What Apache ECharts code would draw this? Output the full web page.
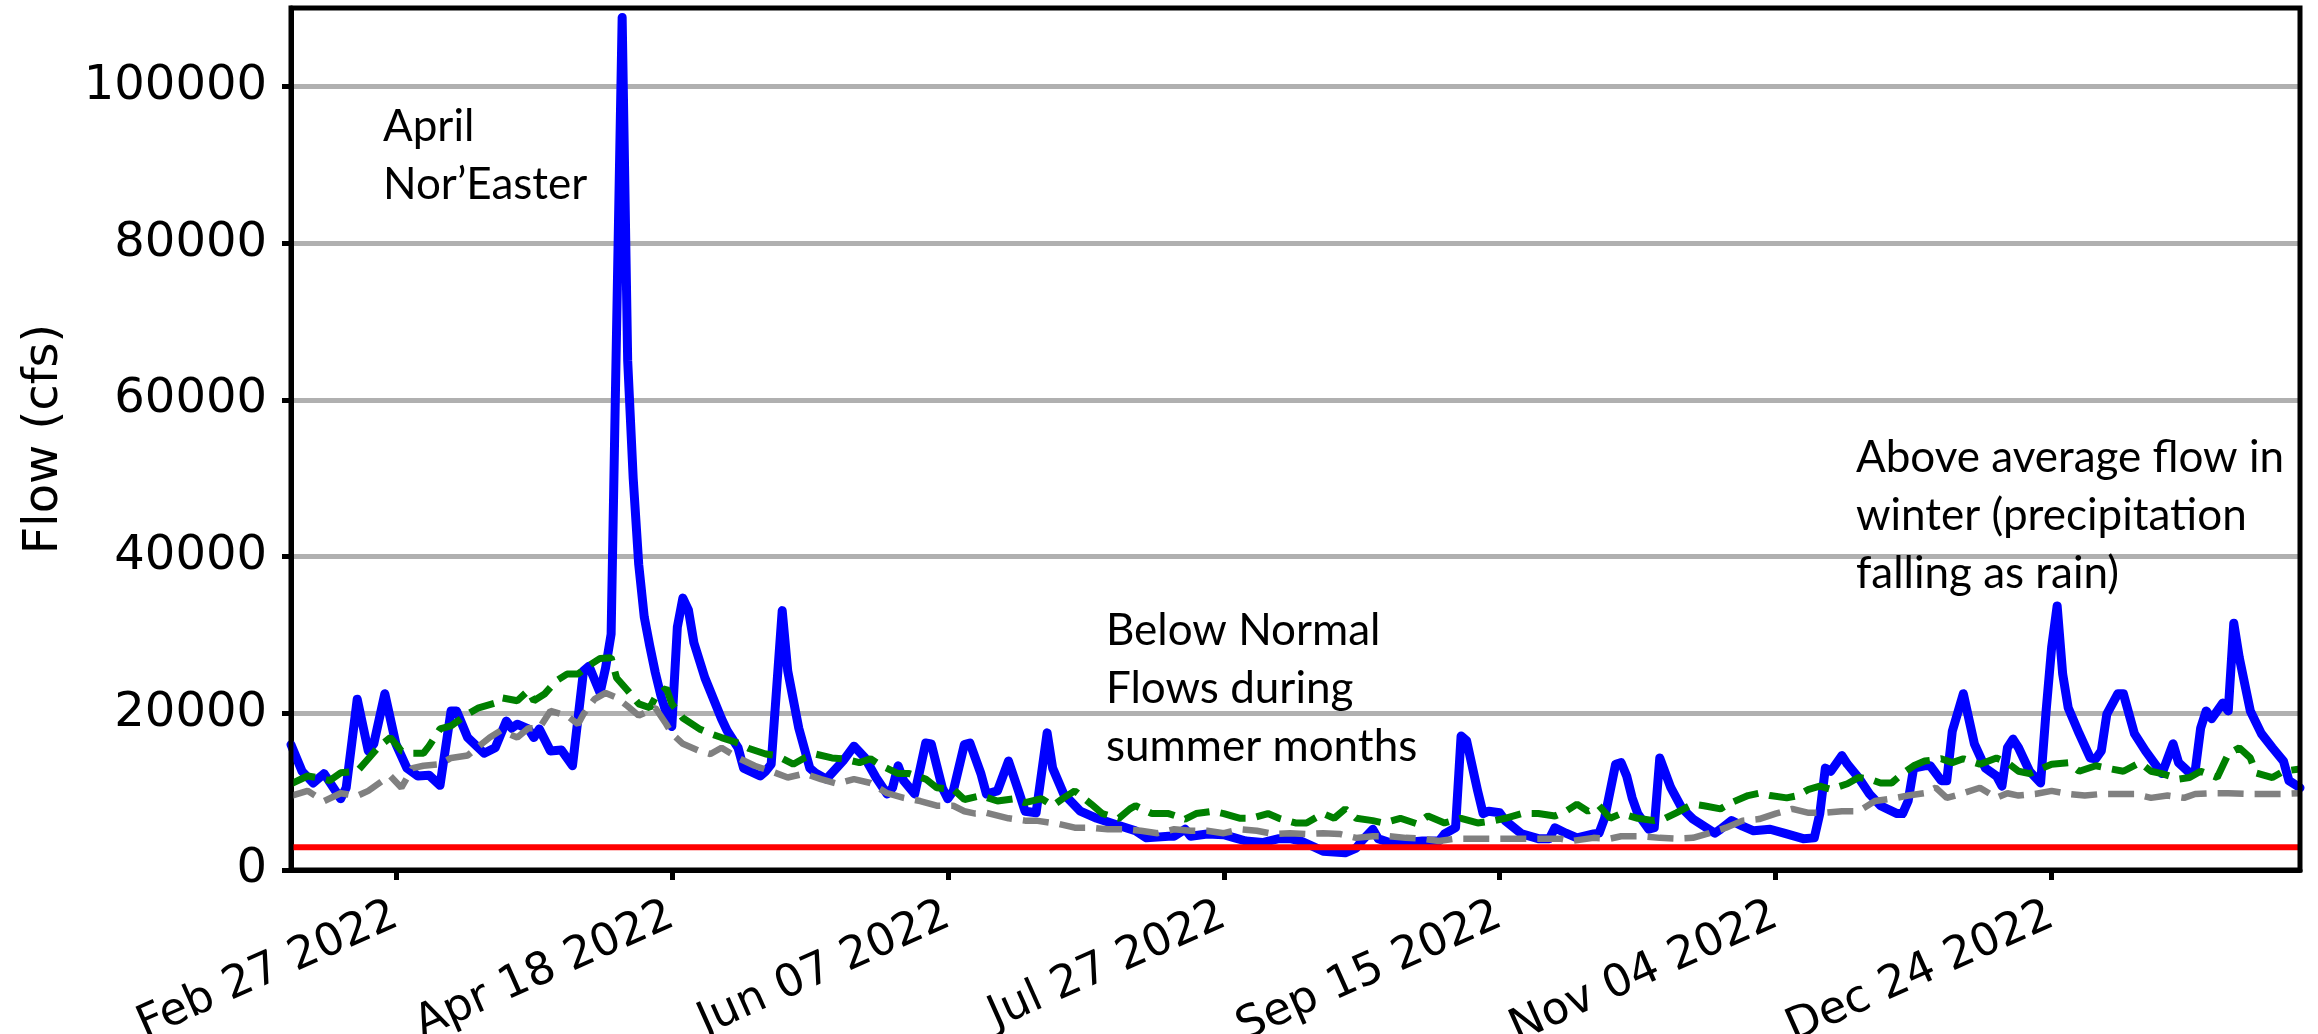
<!DOCTYPE html>
<html>
<head>
<meta charset="utf-8">
<script src="https://cdn.jsdelivr.net/npm/echarts@6/dist/echarts.min.js"></script>
<style>
  html, body { margin: 0; padding: 0; background: #ffffff; }
  #chart { width: 2318px; height: 1034px; }
</style>
</head>
<body>
<div id="chart"></div>
<script>
// x values are day numbers counted from Feb 8 2022 (day 0) to Feb 7 2023 (day 364)
const dayCount = 364;

const tickDays = [19, 69, 119, 169, 219, 269, 319];
const tickLabels = ['Feb 27 2022', 'Apr 18 2022', 'Jun 07 2022', 'Jul 27 2022',
                    'Sep 15 2022', 'Nov 04 2022', 'Dec 24 2022'];
const yTicks = [0, 20000, 40000, 60000, 80000, 100000];

// observed daily flow (cfs)
const flowDays = [0, 2, 4, 6, 9, 10, 12, 14, 15, 17, 19, 21, 23, 25, 27, 29, 30, 32, 35, 37,
  39, 40, 41, 43, 44, 45, 47, 49, 51, 53, 54, 56, 57, 58, 60, 61, 62, 63, 64, 65,
  66, 67, 68, 69, 70, 71, 72, 73, 75, 78, 79, 81, 82, 85, 86, 87, 89, 90, 92, 94,
  95, 97, 100, 102, 104, 106, 108, 109, 110, 111, 113, 115, 116, 118, 119, 120, 122, 123, 125, 126,
  128, 130, 132, 133, 135, 137, 138, 140, 143, 146, 149, 153, 155, 159, 160, 162, 163, 166, 169, 171,
  173, 176, 179, 181, 183, 187, 191, 193, 194, 196, 197, 199, 202, 205, 208, 209, 211, 212, 213, 215,
  216, 217, 219, 220, 223, 226, 228, 229, 231, 233, 236, 237, 238, 240, 241, 242, 243, 244, 246, 247,
  248, 250, 252, 254, 258, 259, 261, 263, 265, 268, 271, 274, 276, 277, 278, 279, 281, 282, 284, 286,
  288, 291, 292, 293, 294, 296, 297, 299, 300, 301, 303, 305, 307, 309, 310, 311, 312, 313, 315, 317,
  318, 319, 320, 321, 322, 324, 326, 327, 328, 329, 331, 332, 334, 336, 339, 341, 342, 344, 345, 346,
  347, 348, 350, 351, 352, 353, 355, 357, 359, 361, 362, 364];
const flowCfs = [16000, 12600, 11100, 12300, 9100, 10500, 21800, 15200, 16100, 22500, 16100, 13000, 12000, 12100, 10800, 20300, 20300, 16900, 14900, 15600,
  19000, 18100, 18600, 18000, 16900, 18000, 15200, 15300, 13300, 25400, 26000, 22600, 25800, 30100, 108800, 65000, 50000, 39000, 32300, 28600,
  25200, 22300, 20000, 18300, 31000, 34700, 33200, 29000, 24500, 19300, 17800, 15600, 13000, 12000, 12600, 13500, 33100, 25400, 18100, 13000,
  12400, 11600, 13900, 15800, 14300, 11800, 9700, 10500, 13300, 11400, 9700, 16200, 16100, 10500, 9100, 10100, 16000, 16200, 12300, 9700,
  10100, 13900, 9700, 7500, 7300, 17500, 13000, 9700, 7500, 6600, 5900, 5000, 4100, 4300, 4300, 5200, 4300, 4600, 4500, 4100,
  3700, 3500, 4000, 4000, 3700, 2400, 2200, 2800, 3700, 5200, 4000, 3500, 3500, 3700, 3700, 4600, 5400, 17100, 16500, 10100,
  7200, 7500, 7300, 6300, 4600, 4000, 4000, 5400, 4700, 4100, 4600, 4700, 6600, 13500, 13700, 12000, 9200, 7200, 5200, 5400,
  14300, 10500, 7900, 6500, 4700, 5200, 6300, 5600, 5000, 5200, 4600, 4000, 4100, 7200, 13000, 12600, 14600, 13500, 11800, 9700,
  8200, 7200, 7200, 8800, 13000, 13300, 13300, 11400, 11400, 17700, 22500, 16100, 13000, 12000, 10700, 15600, 16700, 15600, 12600, 11100,
  20300, 28400, 33700, 25000, 20700, 17400, 14300, 14200, 15200, 19900, 22500, 22500, 17400, 15200, 12300, 16100, 13700, 12400, 12600, 18100,
  20300, 19300, 21300, 20300, 31500, 27100, 20300, 17400, 15600, 13900, 11400, 10500];

// long-term mean flow for each day (cfs)
const meanDays = [0, 3, 5, 7, 9, 12, 14, 16, 18, 20, 22, 24, 25, 27, 29, 32, 34, 37, 38, 41,
  43, 44, 46, 48, 50, 52, 54, 56, 58, 59, 61, 63, 65, 66, 68, 69, 71, 74, 76, 78,
  81, 83, 86, 88, 91, 93, 95, 98, 100, 103, 105, 107, 110, 112, 115, 117, 120, 122, 125, 128,
  131, 133, 136, 138, 140, 142, 145, 147, 150, 152, 153, 156, 159, 162, 164, 167, 169, 172, 174, 177,
  179, 182, 184, 187, 189, 191, 193, 196, 198, 201, 204, 206, 209, 212, 215, 218, 220, 223, 226, 229,
  231, 233, 235, 237, 239, 241, 244, 247, 249, 251, 254, 256, 259, 261, 264, 266, 268, 271, 273, 275,
  277, 279, 282, 284, 286, 288, 290, 292, 294, 296, 299, 301, 303, 306, 309, 311, 313, 315, 317, 319,
  322, 324, 327, 329, 332, 335, 337, 339, 342, 344, 346, 349, 351, 353, 355, 356, 359, 361, 364];
const meanCfs = [11000, 12000, 11750, 11400, 12400, 12600, 14200, 15800, 16900, 15200, 14900, 14900, 15800, 18000, 18400, 19900, 20700, 21300, 22000, 21600,
  22900, 21600, 22500, 24100, 25000, 25000, 26100, 27000, 27100, 24500, 22900, 21200, 20700, 22000, 23200, 21200, 19400, 18000, 17400, 16900,
  16200, 15500, 14800, 14600, 13500, 14300, 14800, 14300, 14200, 13700, 14200, 13300, 12300, 12300, 11600, 10500, 10300, 9000, 9500, 8800,
  9100, 8600, 9100, 8200, 9200, 10100, 8400, 7200, 6600, 7800, 8200, 7200, 7200, 6500, 7200, 7500, 7200, 6600, 6600, 7200,
  6600, 6000, 6000, 7200, 6600, 7800, 6600, 6300, 6000, 6600, 5900, 6900, 6000, 6600, 6000, 6300, 6600, 7200, 7200, 6900,
  7500, 8400, 7500, 8200, 6600, 7200, 6600, 6300, 6600, 7300, 8400, 8200, 7800, 8600, 9500, 9800, 9500, 9200, 9500, 10300,
  10700, 10300, 11000, 11800, 11600, 11100, 11100, 12300, 13300, 13900, 14200, 13700, 14200, 13500, 14300, 13700, 12600, 12300, 12900, 13500,
  13700, 12600, 13300, 13000, 12600, 13700, 12600, 12300, 11600, 11800, 12600, 11800, 14800, 15600, 14300, 12400, 11800, 12600, 12900];

// long-term median flow for each day (cfs)
const medianDays = [0, 3, 6, 9, 12, 14, 17, 18, 20, 22, 24, 27, 29, 32, 33, 36, 38, 41, 43, 45,
  47, 50, 52, 53, 55, 57, 59, 61, 63, 66, 68, 69, 71, 74, 76, 78, 81, 84, 87, 90,
  93, 96, 99, 102, 105, 108, 111, 114, 117, 120, 122, 124, 126, 130, 133, 135, 139, 142, 145, 148,
  151, 154, 157, 160, 163, 166, 169, 172, 175, 178, 181, 184, 187, 190, 193, 196, 199, 202, 205, 208,
  211, 214, 217, 220, 223, 226, 230, 232, 236, 239, 241, 245, 248, 251, 254, 257, 260, 263, 266, 269,
  272, 275, 278, 281, 284, 287, 290, 293, 296, 298, 300, 303, 306, 309, 311, 313, 316, 319, 322, 325,
  328, 331, 334, 337, 340, 343, 345, 348, 351, 355, 357, 361, 364];
const medianCfs = [9450, 10100, 8800, 9800, 9450, 10100, 11600, 12000, 10500, 13000, 13300, 13500, 14300, 14600, 15200, 16900, 17800, 16900, 18100, 18100,
  20300, 19700, 18600, 19900, 21800, 22600, 22000, 20900, 19700, 20700, 18600, 17400, 16100, 15200, 14800, 15600, 14300, 13300, 12600, 11800,
  12300, 11600, 11000, 11600, 11100, 9800, 9200, 8800, 8200, 8200, 7500, 7200, 7300, 6600, 6300, 6300, 5900, 5400, 5400, 5200,
  5200, 5000, 4700, 5200, 5000, 5000, 4700, 5200, 5000, 4600, 4700, 4600, 4700, 4600, 4100, 4300, 4300, 4100, 4000, 3700,
  4000, 4000, 4000, 4000, 4000, 4000, 4000, 3700, 4100, 4000, 4300, 4300, 4100, 4000, 4100, 4700, 5400, 6300, 6500, 7200,
  7800, 7300, 7300, 7500, 7500, 8800, 9100, 9500, 9800, 10500, 9200, 9800, 10500, 9200, 9800, 9500, 9700, 10100, 9700, 9500,
  9700, 9700, 9700, 9200, 9500, 9200, 9700, 9800, 9800, 9700, 9700, 9700, 9800];

// low-flow threshold (cfs)
const lowFlowCfs = 2900;

const pairs = (days, vals) => days.map((d, i) => [d, vals[i]]);

const fontMain = 'DejaVu Sans';
const fontNote = 'Lato';
const grid = { left: 291, top: 8, width: 2009, height: 862 };

const chart = echarts.init(document.getElementById('chart'), null, { renderer: 'canvas' });

const noteStyle = (text) => ({
  text: text,
  fontFamily: fontNote,
  fontSize: 44,
  lineHeight: 58,
  fill: '#000000'
});

chart.setOption({
  animation: false,
  backgroundColor: '#ffffff',
  grid: {
    left: grid.left, top: grid.top, width: grid.width, height: grid.height,
    containLabel: false, outerBoundsMode: 'none'
  },
  xAxis: {
    type: 'value',
    min: 0,
    max: dayCount,
    axisLine: { show: true, onZero: false, lineStyle: { color: '#000000', width: 5 } },
    axisTick: {
      show: true, customValues: tickDays, length: 10, inside: false,
      lineStyle: { color: '#000000', width: 5 }
    },
    axisLabel: {
      customValues: tickDays,
      formatter: (v) => tickLabels[tickDays.indexOf(Math.round(v))] || '',
      rotate: 24,
      margin: 44,
      fontFamily: fontMain,
      fontSize: 45,
      color: '#000000'
    },
    splitLine: { show: false }
  },
  yAxis: {
    type: 'value',
    min: 0,
    max: 110000,
    interval: 20000,
    name: 'Flow (cfs)',
    nameLocation: 'middle',
    nameGap: 222,
    nameTextStyle: { fontFamily: fontMain, fontSize: 48, color: '#000000' },
    axisLine: { show: true, lineStyle: { color: '#000000', width: 5 } },
    axisTick: {
      show: true, customValues: yTicks, length: 9, inside: false,
      lineStyle: { color: '#000000', width: 5 }
    },
    axisLabel: {
      customValues: yTicks,
      showMaxLabel: true,
      formatter: (v) => String(v),
      margin: 24,
      fontFamily: fontMain,
      fontSize: 48,
      color: '#000000'
    },
    splitLine: { show: true, lineStyle: { color: '#b0b0b0', width: 5 } }
  },
  series: [
    {
      name: 'Observed flow',
      type: 'line',
      data: pairs(flowDays, flowCfs),
      showSymbol: false,
      symbol: 'none',
      lineStyle: { color: '#0000ff', width: 9, join: 'round', cap: 'round' },
      z: 2
    },
    {
      name: 'Mean flow',
      type: 'line',
      data: pairs(meanDays, meanCfs),
      showSymbol: false,
      symbol: 'none',
      lineStyle: { color: '#008000', width: 7, type: [26, 11] },
      z: 3
    },
    {
      name: 'Median flow',
      type: 'line',
      data: pairs(medianDays, medianCfs),
      showSymbol: false,
      symbol: 'none',
      lineStyle: { color: '#808080', width: 6.5, type: [26, 11] },
      z: 4
    },
    {
      name: 'Low-flow threshold',
      type: 'line',
      data: [[0, lowFlowCfs], [dayCount, lowFlowCfs]],
      showSymbol: false,
      symbol: 'none',
      lineStyle: { color: '#ff0000', width: 6 },
      z: 5
    }
  ],
  graphic: [
    {
      type: 'rect',
      z: 100,
      silent: true,
      shape: { x: grid.left, y: grid.top, width: grid.width, height: grid.height },
      style: { fill: 'none', stroke: '#000000', lineWidth: 5 }
    },
    { type: 'text', left: 383, top: 98, z: 90, style: noteStyle('April\nNor\u2019Easter') },
    { type: 'text', left: 1106, top: 602, z: 90, style: noteStyle('Below Normal\nFlows during\nsummer months') },
    { type: 'text', left: 1856, top: 429, z: 90, style: noteStyle('Above average flow in\nwinter (precipitation\nfalling as rain)') }
  ]
});
</script>
</body>
</html>
